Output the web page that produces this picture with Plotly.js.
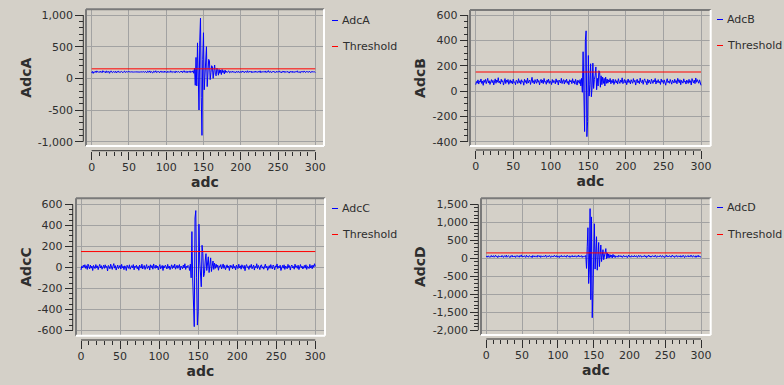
<!DOCTYPE html>
<html>
<head>
<meta charset="utf-8">
<script src="https://cdn.plot.ly/plotly-3.0.1.min.js"></script>
<style>
html,body{margin:0;padding:0;background:#d4d0c8;}
#chart{width:784px;height:385px;}
</style>
</head>
<body>
<div id="chart"></div>
<script>
// ---------------- DATA ----------------
const adcA = [
  85,110,78,104,96,112,90,118,102,95,
  108,92,115,99,88,121,104,96,110,85,
  116,100,93,112,80,105,118,97,90,109,
  101,94,113,86,107,99,117,92,104,96,
  110,98,89,106,115,93,101,108,95,112,
  104,97,100,103,98,101,99,105,96,102,
  100,98,104,97,101,99,103,96,100,102,
  106,93,111,98,88,114,102,95,118,90,
  107,99,84,113,101,96,120,92,105,98,
  111,87,103,117,94,100,109,91,115,99,
  104,88,112,97,107,93,119,101,90,110,
  98,106,86,114,100,95,111,103,92,108,
  99,116,89,105,121,94,102,110,87,113,
  100,96,118,91,107,
  100,120,80,160,-110,330,-120,560,-340,-500,
  600,950,-300,-900,300,720,-180,150,400,500,
  -130,60,300,280,-20,90,200,180,0,120,
  210,60,40,160,140,50,140,80,130,60,
  140,90,120,70,130,90,
  112,95,104,118,88,101,109,93,115,97,
  106,99,84,110,102,96,113,90,105,100,
  94,117,98,107,89,111,103,95,120,92,
  108,99,101,114,87,105,96,110,93,116,
  100,91,109,104,97,119,88,106,101,112,
  95,103,117,90,108,99,122,94,102,111,
  89,106,100,115,96,104,91,113,98,107,
  101,118,93,105,87,110,99,116,92,104,
  108,95,112,100,83,109,103,97,114,90,
  106,101,94,111,98,119,92,105,100,88,
  112,97,108,95,117,103,91,110,99,106,
  94,115,100,89,107,102,111,96,105,92
];
const adcB = [
  50,75,62,88,55,80,70,95,60,78,
  45,85,68,92,58,74,100,63,81,52,
  77,90,66,84,48,72,96,61,87,70,
  105,64,79,55,93,71,82,47,76,98,
  59,86,69,91,53,75,88,62,80,57,
  94,67,73,50,85,78,60,97,65,82,
  54,89,71,76,46,93,68,84,58,102,
  63,79,87,52,74,108,66,81,56,90,
  72,61,95,69,83,49,77,92,64,86,
  58,99,70,75,53,88,67,94,60,80,
  73,51,91,65,84,78,57,96,69,82,
  48,87,74,63,100,59,79,90,55,85,
  68,94,61,77,50,89,72,83,58,97,
  65,80,54,92,70,47,86,75,
  60,90,40,100,-10,310,-160,-320,400,475,
  -360,-240,280,-40,50,215,-45,30,220,20,
  90,120,190,10,100,40,160,150,30,120,
  50,110,60,100,40,110,60,95,
  62,88,71,99,57,83,66,94,52,78,
  90,64,81,55,97,73,60,86,69,104,
  58,76,91,63,84,50,79,95,67,82,
  56,89,74,61,98,70,85,47,77,93,
  64,80,58,102,72,66,88,53,83,96,
  69,75,49,92,62,87,71,57,94,78,
  60,85,73,99,55,81,68,90,64,76,
  52,95,70,83,59,88,74,46,80,97,
  66,79,61,91,72,54,86,77,63,93,
  68,82,57,100,71,65,89,50,84,75,
  62,96,70,78,55,87,73,60,92,67,
  81,48,98,74,63,86,58,103,69,90,
  77,61,88,72,45
];
const adcC = [
  -25,10,-5,20,0,25,-10,15,-20,30,
  5,-15,22,-8,12,-30,18,2,-12,26,
  -4,14,-22,8,28,-6,16,-18,4,20,
  -10,24,-2,10,-35,18,6,-14,30,0,
  -20,12,35,-8,16,-26,6,22,-12,2,
  18,-16,28,-4,10,-22,14,4,-30,20,
  8,-10,24,-18,2,16,-6,26,-24,12,
  0,20,-14,8,-28,22,4,-8,30,-16,
  10,18,-20,6,26,-12,2,14,-26,24,
  -2,16,-18,32,0,-10,22,-6,12,-24,
  8,26,-14,4,18,-30,14,-4,20,6,
  -16,28,-8,12,-22,2,24,-12,16,-4,
  30,-18,8,20,-10,4,26,-26,12,2,
  -14,22,-6,34,-20,10,-2,18,
  10,-30,30,-100,340,-110,-300,-565,470,540,
  -100,-550,-420,410,60,-150,-185,210,130,-90,
  -60,60,130,-30,20,100,-50,10,90,-40,
  30,60,-20,40,-10,30,0,20,
  -28,14,4,26,-16,8,32,-10,18,-22,
  6,24,-4,12,-30,20,0,16,-14,28,
  -8,10,-24,22,2,-12,30,-6,14,-18,
  24,4,-10,18,-32,12,26,-2,8,-20,
  16,0,28,-14,6,22,-26,10,-4,34,
  -12,18,2,-22,14,24,-8,6,-18,20,
  30,-6,12,-28,4,16,-10,26,0,-16,
  22,8,-24,14,2,32,-12,10,-4,20,
  -30,6,18,-8,24,-20,12,4,-14,28,
  -2,16,-26,10,22,-6,8,-18,30,0,
  14,-10,20,-22,6,26,-4,12,-16,2,
  18,-8,24,-20,10,4,-12,28,-6,16,
  -14,22,0,34,8
];
const adcD = [
  40,65,30,70,45,25,60,80,35,55,
  75,30,50,85,40,60,20,70,55,45,
  65,35,80,50,25,70,60,40,90,30,
  55,75,45,20,65,50,85,35,60,40,
  70,25,55,80,45,60,30,75,50,95,
  35,65,40,70,55,25,85,45,60,30,
  75,50,40,65,20,80,55,35,70,45,
  60,30,85,50,40,75,25,65,55,45,
  70,35,60,90,30,50,65,40,80,55,
  25,70,45,60,35,85,50,40,75,30,
  65,55,20,70,45,80,35,60,50,75,
  40,65,30,85,55,45,70,25,60,50,
  80,35,65,40,75,55,30,70,45,90,
  35,60,50,75,25,65,45,
  60,40,80,-280,320,850,-700,-300,1380,-1150,
  1150,-1650,-900,50,960,-300,300,600,-330,100,
  440,-230,50,370,-90,200,240,-40,130,160,
  270,-10,150,10,120,20,100,30,90,10,
  110,40,80,20,
  70,45,60,30,85,50,40,75,55,25,
  65,80,35,60,45,70,20,55,90,40,
  60,30,75,50,65,35,80,45,55,70,
  25,60,85,40,50,75,30,65,45,55,
  80,35,70,20,60,50,90,40,65,30,
  55,75,45,60,35,85,50,25,70,45,
  65,40,80,55,30,75,60,45,20,70,
  50,85,35,60,40,75,55,30,65,90,
  45,60,25,70,50,80,35,55,65,40,
  75,30,60,45,85,50,20,70,55,40,
  65,80,35,60,45,90,50,30,75,55,
  40,70,25,65,50,85,35,60,45,30
];
const thresholdX = [0, 300];
const thresholdY = [150, 150];

const xTicks = [0, 50, 100, 150, 200, 250, 300];
const xTickText = ['0', '50', '100', '150', '200', '250', '300'];
const yTicksA = [-1000, -500, 0, 500, 1000];
const yTickTextA = ['-1,000', '-500', '0', '500', '1,000'];
const yTicksB = [-400, -200, 0, 200, 400, 600];
const yTickTextB = ['-400', '-200', '0', '200', '400', '600'];
const yTicksC = [-600, -400, -200, 0, 200, 400, 600];
const yTickTextC = ['-600', '-400', '-200', '0', '200', '400', '600'];
const yTicksD = [-2000, -1500, -1000, -500, 0, 500, 1000, 1500];
const yTickTextD = ['-2,000', '-1,500', '-1,000', '-500', '0', '500', '1,000', '1,500'];

// ---------------- LAYOUT HELPERS ----------------
const W = 784, H = 385;
const fx = p => p / W;
const fy = p => 1 - p / H;
const FONT = 'DejaVu Sans, Liberation Sans, sans-serif';
const TXT = '#2e2e2e';
const BG = '#d4d0c8';
const GRID = '#a2a2a2';
const BLUE = '#0000ff';
const RED = '#ff0000';

function minorBetween(major, step) {
  const out = [];
  for (let i = 0; i < major.length - 1; i++) {
    for (let v = major[i] + step; v < major[i + 1] - 1e-9; v += step) out.push(v);
  }
  return out;
}

const panels = [
  {key: '', name: 'AdcA', data: adcA, yT: yTicksA, yTT: yTickTextA, yMinor: 100,
   frame: {l: 86, t: 9.3, r: 324, b: 146}, xRange: [-7.6, 311.7], yRange: [-1068, 1090],
   xLine: 150.7, yLine: 83.3, legX: 332, legY: [20.5, 46.5], ystand: 1},
  {key: '2', name: 'AdcB', data: adcB, yT: yTicksB, yTT: yTickTextB, yMinor: 50,
   frame: {l: 470, t: 10, r: 710.7, b: 146}, xRange: [-7.6, 312.9], yRange: [-434, 639.5],
   xLine: 150, yLine: 467.7, legX: 717, legY: [19.5, 45.5], ystand: 2.5},
  {key: '3', name: 'AdcC', data: adcC, yT: yTicksC, yTT: yTickTextC, yMinor: 50,
   frame: {l: 76, t: 198.3, r: 325, b: 335.7}, xRange: [-6.4, 312.4], yRange: [-651, 657],
   xLine: 340, yLine: 72.7, legX: 332, legY: [208.5, 234.5], ystand: 1},
  {key: '4', name: 'AdcD', data: adcD, yT: yTicksD, yTT: yTickTextD, yMinor: 100,
   frame: {l: 481, t: 198.3, r: 710.7, b: 335}, xRange: [-7.4, 313.5], yRange: [-2130, 1667],
   xLine: 339, yLine: 478.3, legX: 717, legY: [207.5, 234.5], ystand: 2.5}
];

const traces = [];
const layout = {
  width: W, height: H,
  margin: {l: 0, r: 0, t: 0, b: 0, pad: 0},
  paper_bgcolor: BG, plot_bgcolor: BG,
  showlegend: false,
  font: {family: FONT, size: 11, color: TXT},
  shapes: [], annotations: []
};

panels.forEach(p => {
  const xa = 'x' + p.key, ya = 'y' + p.key;
  const xName = 'xaxis' + p.key, yName = 'yaxis' + p.key;
  traces.push({
    y: p.data, x0: 0, dx: 1, type: 'scatter', mode: 'lines', name: p.name,
    xaxis: xa, yaxis: ya, line: {color: BLUE, width: 1}, hoverinfo: 'skip'
  });
  traces.push({
    x: thresholdX, y: thresholdY, type: 'scatter', mode: 'lines', name: 'Threshold',
    xaxis: xa, yaxis: ya, line: {color: RED, width: 1}, hoverinfo: 'skip'
  });
  const f = p.frame;
  layout[xName] = {
    domain: [fx(f.l), fx(f.r)], range: p.xRange, anchor: 'free', position: fy(p.xLine),
    tickmode: 'array', tickvals: xTicks, ticktext: xTickText,
    ticks: 'outside', ticklen: 8, tickwidth: 1, tickcolor: TXT, ticklabelstandoff: -2,
    minor: {tickmode: 'array', tickvals: minorBetween(xTicks, 10), ticks: 'outside', ticklen: 4,
            tickwidth: 1, tickcolor: TXT, showgrid: false},
    showgrid: true, gridcolor: GRID, gridwidth: 1, zeroline: false, showline: false,
    tickfont: {family: FONT, size: 11, color: TXT},
    title: {text: 'adc', font: {family: FONT, size: 14, color: TXT, weight: 'bold'}, standoff: 0},
    fixedrange: true
  };
  layout[yName] = {
    domain: [fy(f.b), fy(f.t)], range: p.yRange, anchor: 'free', position: fx(p.yLine),
    tickmode: 'array', tickvals: p.yT, ticktext: p.yTT,
    ticks: 'outside', ticklen: 8, tickwidth: 1, tickcolor: TXT,
    minor: {tickmode: 'array', tickvals: minorBetween(p.yT, p.yMinor), ticks: 'outside', ticklen: 4,
            tickwidth: 1, tickcolor: TXT, showgrid: false},
    showgrid: true, gridcolor: GRID, gridwidth: 1, zeroline: false, showline: false,
    tickfont: {family: FONT, size: 11, color: TXT},
    title: {text: p.name, font: {family: FONT, size: 14, color: TXT, weight: 'bold'}, standoff: p.ystand},
    fixedrange: true
  };
  // axis lines (span first to last major tick)
  layout.shapes.push({type: 'line', xref: xa, yref: 'paper',
    x0: xTicks[0], x1: xTicks[xTicks.length - 1], y0: fy(p.xLine), y1: fy(p.xLine),
    line: {color: TXT, width: 1}, layer: 'above'});
  layout.shapes.push({type: 'line', xref: 'paper', yref: ya,
    x0: fx(p.yLine), x1: fx(p.yLine), y0: p.yT[0], y1: p.yT[p.yT.length - 1],
    line: {color: TXT, width: 1}, layer: 'above'});
  // sunken frame
  layout.shapes.push({type: 'line', xref: 'paper', yref: 'paper',
    x0: fx(f.l), x1: fx(f.r), y0: fy(f.t), y1: fy(f.t), line: {color: '#7a7a7a', width: 2}, layer: 'above'});
  layout.shapes.push({type: 'line', xref: 'paper', yref: 'paper',
    x0: fx(f.l), x1: fx(f.l), y0: fy(f.t), y1: fy(f.b), line: {color: '#7a7a7a', width: 2}, layer: 'above'});
  layout.shapes.push({type: 'line', xref: 'paper', yref: 'paper',
    x0: fx(f.r), x1: fx(f.r), y0: fy(f.t), y1: fy(f.b), line: {color: '#ffffff', width: 2}, layer: 'above'});
  layout.shapes.push({type: 'line', xref: 'paper', yref: 'paper',
    x0: fx(f.l), x1: fx(f.r), y0: fy(f.b), y1: fy(f.b), line: {color: '#ffffff', width: 2}, layer: 'above'});
  // legend entries: short line swatch + label
  [[p.name, BLUE, p.legY[0]], ['Threshold', RED, p.legY[1]]].forEach(([label, col, ly]) => {
    layout.shapes.push({type: 'line', xref: 'paper', yref: 'paper',
      x0: fx(p.legX), x1: fx(p.legX + 6), y0: fy(ly), y1: fy(ly),
      line: {color: col, width: 1}, layer: 'above'});
    layout.annotations.push({xref: 'paper', yref: 'paper', x: fx(p.legX + 9), y: fy(ly),
      xanchor: 'left', yanchor: 'middle', showarrow: false, borderpad: 0,
      text: label, font: {family: FONT, size: 11, color: TXT}});
  });
});

Plotly.newPlot('chart', traces, layout, {staticPlot: true, displayModeBar: false});
</script>
</body>
</html>
